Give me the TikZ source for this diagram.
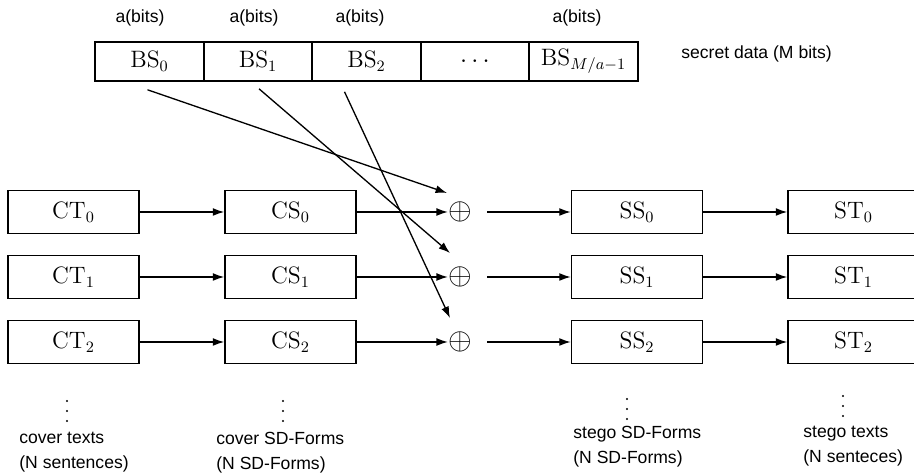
\documentclass[tikz,border=0pt]{standalone}
\usepackage{fontspec}
\newfontfamily\lblfont{Liberation Sans}
\usetikzlibrary{arrows.meta}

\begin{document}
\begin{tikzpicture}[x=0.02cm, y=-0.02cm,
  blk/.style={draw, line width=0.9pt, minimum width=2.62cm, minimum height=0.86cm,
    inner sep=0pt, font=\fontsize{13.5}{16}\selectfont},
  cell/.style={draw, line width=0.9pt, minimum width=2.17cm, minimum height=0.78cm,
    inner sep=0pt, font=\fontsize{13.5}{16}\selectfont},
  sum/.style={inner sep=0pt, font=\fontsize{18}{20}\selectfont},
  arr/.style={-{Latex[length=6.5pt, width=4.5pt]}, line width=0.75pt},
  lbl/.style={inner sep=0pt, font=\lblfont\fontsize{10}{14.2}\selectfont}]
  \useasboundingbox (0,0) rectangle (914,475);
  \clip (0,0) rectangle (914,475);
  % secret data, cut into blocks of a bits
  \node[cell] (bs0) at (149.5,61.5) {$\mathrm{BS}_0$};
  \node[cell] (bs1) at (258,61.5) {$\mathrm{BS}_1$};
  \node[cell] (bs2) at (366.5,61.5) {$\mathrm{BS}_2$};
  \node[cell] (bsd) at (475,61.5) {$\cdots$};
  \node[cell] (bsm) at (583.5,61.5) {$\mathrm{BS}_{M/a-1}$};
  \node[lbl] (ab0) at (140,18) {a(bits)};
  \node[lbl] (ab1) at (254,18) {a(bits)};
  \node[lbl] (ab2) at (360,18) {a(bits)};
  \node[lbl] (abm) at (577,18) {a(bits)};
  \node[lbl, anchor=west] (sec) at (681,54) {secret data (M bits)};
  % first sentence
  \node[blk] (ct0) at (73.5,212) {$\mathrm{CT}_0$};
  \node[blk] (cs0) at (290.5,212) {$\mathrm{CS}_0$};
  \node[sum] (op0) at (460,212) {$\oplus$};
  \node[blk] (ss0) at (637,212) {$\mathrm{SS}_0$};
  \node[blk] (st0) at (853.5,212) {$\mathrm{ST}_0$};
  % second sentence
  \node[blk] (ct1) at (73.5,277) {$\mathrm{CT}_1$};
  \node[blk] (cs1) at (290.5,277) {$\mathrm{CS}_1$};
  \node[sum] (op1) at (460,277) {$\oplus$};
  \node[blk] (ss1) at (637,277) {$\mathrm{SS}_1$};
  \node[blk] (st1) at (853.5,277) {$\mathrm{ST}_1$};
  % third sentence
  \node[blk] (ct2) at (73.5,342) {$\mathrm{CT}_2$};
  \node[blk] (cs2) at (290.5,342) {$\mathrm{CS}_2$};
  \node[sum] (op2) at (460,342) {$\oplus$};
  \node[blk] (ss2) at (637,342) {$\mathrm{SS}_2$};
  \node[blk] (st2) at (853.5,342) {$\mathrm{ST}_2$};
  % row arrows
  \draw[arr] (ct0) -- (cs0);
  \draw[arr] (cs0) -- (op0);
  \draw[arr, shorten <=0.3cm] (op0) -- (ss0);
  \draw[arr] (ss0) -- (st0);
  \draw[arr] (ct1) -- (cs1);
  \draw[arr] (cs1) -- (op1);
  \draw[arr, shorten <=0.3cm] (op1) -- (ss1);
  \draw[arr] (ss1) -- (st1);
  \draw[arr] (ct2) -- (cs2);
  \draw[arr] (cs2) -- (op2);
  \draw[arr, shorten <=0.3cm] (op2) -- (ss2);
  \draw[arr] (ss2) -- (st2);
  % bit blocks into the xor
  \coordinate (from0) at ([shift={(-2,8)}]bs0.south);
  \coordinate (from1) at ([shift={(1,7)}]bs1.south);
  \coordinate (from2) at ([shift={(-22,10)}]bs2.south);
  \coordinate (to0) at ([shift={(-13,-19)}]op0.center);
  \coordinate (to1) at ([shift={(-10,-24)}]op1.center);
  \coordinate (to2) at ([shift={(-10,-24)}]op2.center);
  \draw[arr] (from0) -- (to0);
  \draw[arr] (from1) -- (to1);
  \draw[arr] (from2) -- (to2);
  % more sentences below (vertical dots)
  \fill (67,401) circle (0.6pt) (67,411) circle (0.6pt) (67,421) circle (0.6pt);
  \fill (283,401) circle (0.6pt) (283,411) circle (0.6pt) (283,421) circle (0.6pt);
  \fill (627,399) circle (0.6pt) (627,409) circle (0.6pt) (627,419) circle (0.6pt);
  \fill (843,396) circle (0.6pt) (843,406) circle (0.6pt) (843,416) circle (0.6pt);
  \node[lbl, anchor=north west, align=left] (tct) at (19,432) {cover texts\\(N sentences)};
  \node[lbl, anchor=north west, align=left] (tcs) at (216,432) {cover SD-Forms\\(N SD-Forms)};
  \node[lbl, anchor=north west, align=left] (tss) at (573,426) {stego SD-Forms\\(N SD-Forms)};
  \node[lbl, anchor=north west, align=left] (tst) at (803,426) {stego texts\\(N senteces)};
\end{tikzpicture}
\end{document}
